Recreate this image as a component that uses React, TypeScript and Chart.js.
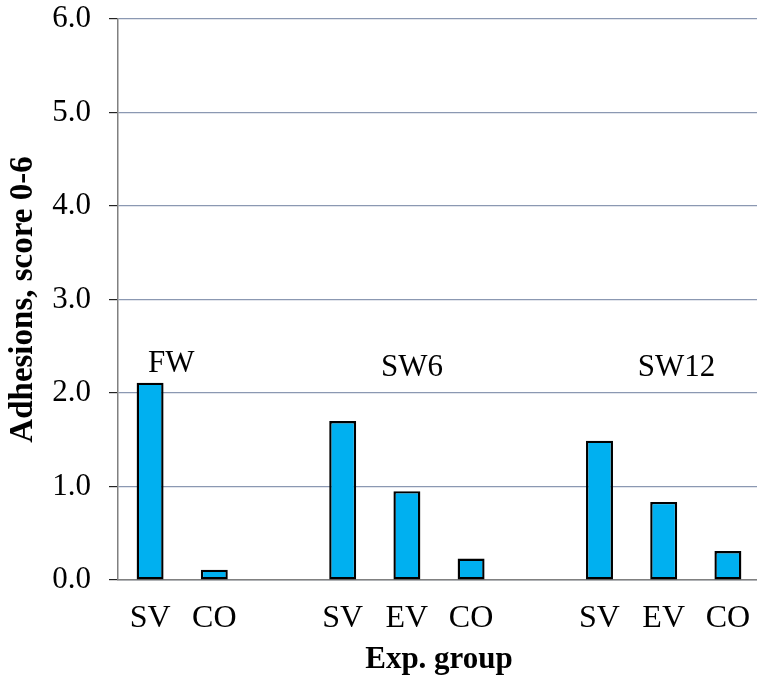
import React, { useEffect, useRef } from "react";
import { Chart, registerables } from "chart.js";

Chart.register(...registerables);

const categories = ["SV", "CO", "", "SV", "EV", "CO", "", "SV", "EV", "CO"];
const adhesionScores = [2.11, 0.11, null, 1.7, 0.95, 0.23, null, 1.49, 0.835, 0.31];
const yTickValues = [0, 1, 2, 3, 4, 5, 6];
const groupLabels = ["FW", "SW6", "SW12"];
const groupLabelIndex = [0.33, 4.08, 8.2];
const groupLabelValue = [2.22, 2.18, 2.18];

const SERIF = "'Liberation Serif', 'Times New Roman', serif";

const groupLabelPlugin = {
  id: "groupLabels",
  afterDatasetsDraw(chart: any) {
    const { ctx, scales } = chart;
    ctx.save();
    ctx.font = `31px ${SERIF}`;
    ctx.fillStyle = "#000";
    ctx.textAlign = "center";
    ctx.textBaseline = "alphabetic";
    groupLabels.forEach((label, i) => {
      const x = scales.x.getPixelForValue(groupLabelIndex[i]);
      const y = scales.y.getPixelForValue(groupLabelValue[i]);
      ctx.fillText(label, x, y);
    });
    ctx.restore();
  },
};

export default function App() {
  const ref = useRef<HTMLCanvasElement>(null);
  useEffect(() => {
    if (!ref.current) return;
    const chart = new Chart(ref.current, {
      type: "bar",
      data: {
        labels: categories,
        datasets: [
          {
            data: adhesionScores as any,
            backgroundColor: "#00B0F0",
            borderColor: "#000000",
            borderWidth: 2.4,
            borderSkipped: false,
            categoryPercentage: 1,
            barPercentage: 0.42,
          },
        ],
      },
      options: {
        responsive: false,
        animation: false,
        layout: { padding: 0 },
        plugins: {
          legend: { display: false },
          tooltip: { enabled: false },
        },
        scales: {
          x: {
            offset: true,
            grid: { display: false, drawTicks: false },
            border: { display: true, color: "#808080", width: 1.5 },
            ticks: {
              color: "#000",
              padding: 19,
              maxRotation: 0,
              autoSkip: false,
              font: { family: SERIF, size: 32 },
            },
            title: {
              display: true,
              text: "Exp. group",
              color: "#000",
              font: { family: SERIF, size: 31, weight: "bold" },
              padding: { top: 0, bottom: 2 },
            },
            afterFit(scale: any) {
              scale.height = 101;
              scale.paddingLeft = 0;
              scale.paddingRight = 0;
            },
          },
          y: {
            min: 0,
            max: 6,
            afterBuildTicks(scale: any) {
              scale.ticks = yTickValues.map((v) => ({ value: v }));
            },
            grid: {
              color: "#8B98B2",
              lineWidth: 1.2,
              drawTicks: true,
              tickLength: 9,
              tickColor: "#222",
              tickWidth: 1.2,
            },
            border: { display: true, color: "#808080", width: 1.5 },
            ticks: {
              color: "#000",
              padding: 18,
              font: { family: SERIF, size: 31 },
              callback: (v: any) => Number(v).toFixed(1),
            },
            title: {
              display: true,
              text: "Adhesions, score 0-6",
              color: "#000",
              font: { family: SERIF, size: 33, weight: "bold" },
              padding: { top: 4, bottom: 0 },
            },
            afterFit(scale: any) {
              scale.width = 118;
              scale.paddingTop = 19;
              scale.paddingBottom = 0;
            },
          },
        },
      },
      plugins: [groupLabelPlugin],
    });
    return () => chart.destroy();
  }, []);
  return (
    <div
      style={{
        position: "absolute",
        left: 0,
        top: 0,
        width: 757,
        height: 681,
        overflow: "hidden",
        background: "#fff",
      }}
    >
      <canvas ref={ref} width={760} height={681} style={{ display: "block", width: 760, height: 681 }} />
    </div>
  );
}
